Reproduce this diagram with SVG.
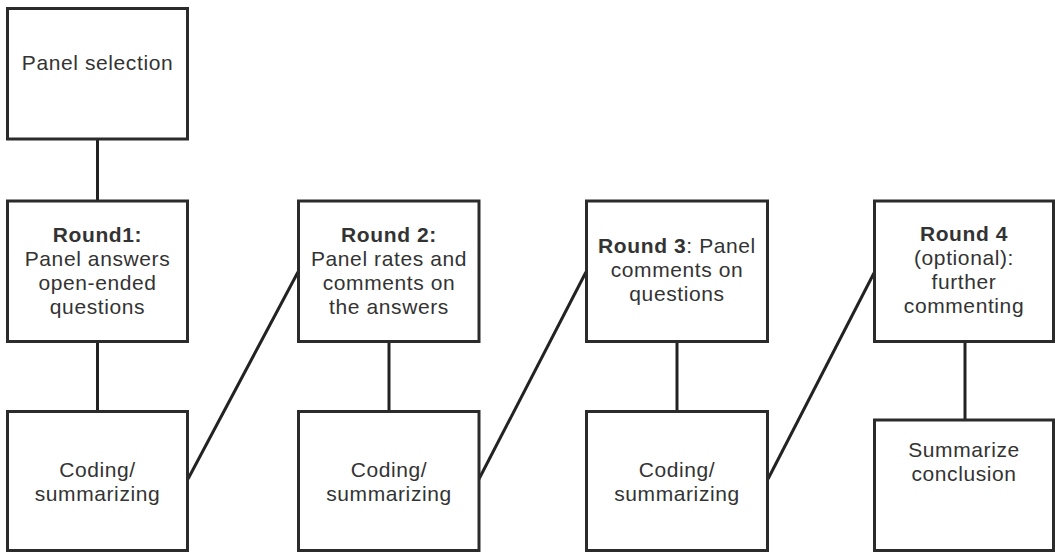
<svg xmlns="http://www.w3.org/2000/svg" width="1055" height="553" viewBox="0 0 1055 553">
<style>
.box{fill:#fff;stroke:#2b2b2b;stroke-width:3}
.conn line{stroke:#222;stroke-width:3}
text{font-family:"Liberation Sans",Arial,sans-serif;font-size:21px;fill:#333;text-anchor:middle;letter-spacing:0.6px}
.b{font-weight:bold}
</style>
<rect width="1055" height="553" fill="#fff"/>
<g id="connectors" class="conn">
<line x1="97.5" y1="139" x2="97.5" y2="201"/>
<line x1="97.5" y1="341.5" x2="97.5" y2="411.5"/>
<line x1="389" y1="341.5" x2="389" y2="411.5"/>
<line x1="677" y1="341.5" x2="677" y2="411.5"/>
<line x1="965" y1="341.5" x2="965" y2="420"/>
<line x1="188" y1="479" x2="298" y2="272"/>
<line x1="479" y1="479" x2="586" y2="272"/>
<line x1="768" y1="479" x2="874" y2="273"/>
</g>
<g id="panel-selection">
<rect class="box" x="7.5" y="8.5" width="180" height="130.5"/>
<text x="97.5" y="70">Panel selection</text>
</g>
<g id="round1">
<rect class="box" x="7.5" y="201" width="180" height="140.5"/>
<text x="97.5" y="242" class="b">Round1:</text>
<text x="97.5" y="266">Panel answers</text>
<text x="97.5" y="290">open-ended</text>
<text x="97.5" y="314">questions</text>
</g>
<g id="coding1">
<rect class="box" x="7.5" y="411.5" width="180" height="139"/>
<text x="97.5" y="477">Coding/</text>
<text x="97.5" y="501">summarizing</text>
</g>
<g id="round2">
<rect class="box" x="298.5" y="201" width="180.5" height="140.5"/>
<text x="389" y="242" class="b">Round 2:</text>
<text x="389" y="266">Panel rates and</text>
<text x="389" y="290">comments on</text>
<text x="389" y="314">the answers</text>
</g>
<g id="coding2">
<rect class="box" x="298.5" y="411.5" width="180.5" height="139"/>
<text x="389" y="477">Coding/</text>
<text x="389" y="501">summarizing</text>
</g>
<g id="round3">
<rect class="box" x="586.5" y="201" width="181" height="140.5"/>
<text x="677" y="253"><tspan class="b">Round 3</tspan>: Panel</text>
<text x="677" y="277">comments on</text>
<text x="677" y="301">questions</text>
</g>
<g id="coding3">
<rect class="box" x="586.5" y="411.5" width="181" height="139"/>
<text x="677" y="477">Coding/</text>
<text x="677" y="501">summarizing</text>
</g>
<g id="round4">
<rect class="box" x="874.5" y="201" width="179" height="140.5"/>
<text x="964" y="241" class="b">Round 4</text>
<text x="964" y="265">(optional):</text>
<text x="964" y="289">further</text>
<text x="964" y="313">commenting</text>
</g>
<g id="summarize">
<rect class="box" x="874.5" y="420" width="179" height="130.5"/>
<text x="964" y="457">Summarize</text>
<text x="964" y="481">conclusion</text>
</g>
</svg>
